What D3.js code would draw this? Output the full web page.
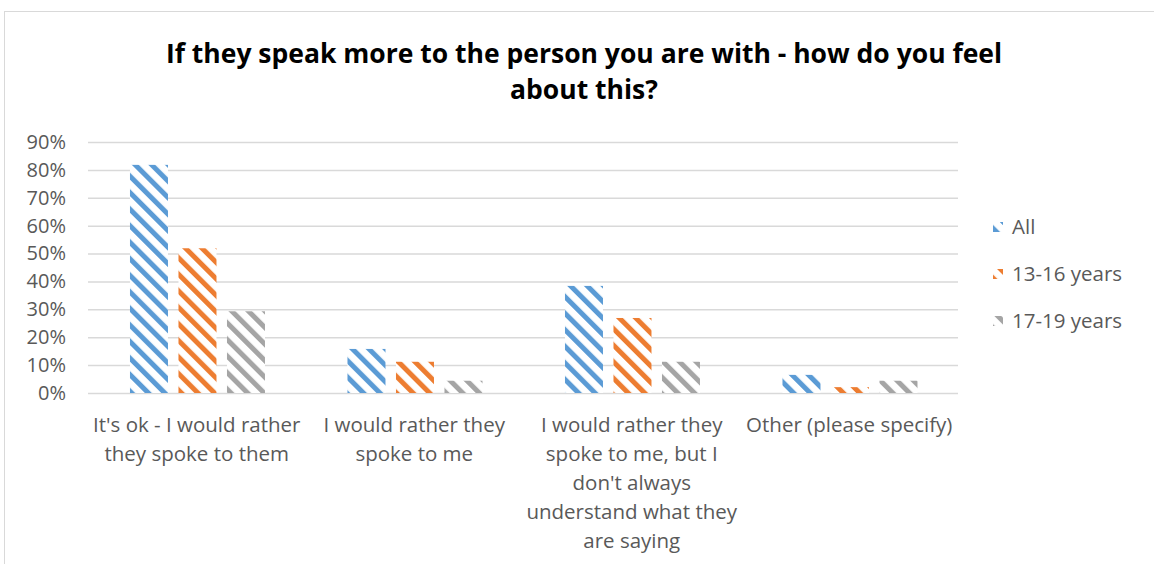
<!DOCTYPE html>
<html><head><meta charset="utf-8">
<script src="https://cdn.jsdelivr.net/npm/d3@7"></script>
<style>body{margin:0;background:#fff;} text{font-family:"Open Sans",sans-serif;}</style>
</head><body><svg id="c" width="1154" height="564"></svg>
<script>
const categories = [
  "It's ok - I would rather\nthey spoke to them",
  "I would rather they\nspoke to me",
  "I would rather they\nspoke to me, but I\ndon't always\nunderstand what they\nare saying",
  "Other (please specify)"
];
const seriesNames = ["All", "13-16 years", "17-19 years"];
const allValues = [0.818, 0.158, 0.384, 0.065];
const age13to16Values = [0.519, 0.112, 0.269, 0.021];
const age17to19Values = [0.293, 0.044, 0.112, 0.044];
const yTicks = [0, 0.1, 0.2, 0.3, 0.4, 0.5, 0.6, 0.7, 0.8, 0.9];
const colors = ["#5b9bd5", "#ed7d31", "#a5a5a5"];
const titleLines = ["If they speak more to the person you are with - how do you feel", "about this?"];

const series = [allValues, age13to16Values, age17to19Values];
const svg = d3.select("#c");

// chart border
svg.append("rect").attr("x", 4.5).attr("y", 11.5).attr("width", 1200).attr("height", 600)
  .attr("fill", "#fff").attr("stroke", "#d9d9d9").attr("stroke-width", 1);

// patterns
const defs = svg.append("defs");
colors.forEach((c, i) => {
  const p = defs.append("pattern").attr("id", "pat" + i)
    .attr("patternUnits", "userSpaceOnUse").attr("width", 11.7).attr("height", 11.7)
    .attr("patternTransform", "rotate(-45)");
  p.append("rect").attr("width", 11.7).attr("height", 11.7).attr("fill", "#fff");
  p.append("rect").attr("width", 5.0).attr("height", 11.7).attr("fill", c);
});

const x = d3.scaleBand().domain(d3.range(categories.length)).range([88, 958]).padding(0);
const inner = d3.scaleBand().domain(d3.range(series.length))
  .range([0.193 * x.bandwidth(), 0.193 * x.bandwidth() + 135]).paddingInner(0.2165).paddingOuter(0);
const y = d3.scaleLinear().domain([0, 0.9]).range([393, 142]);

// gridlines
const yAxis = d3.axisLeft(y).tickValues(yTicks).tickFormat(d3.format(".0%")).tickSize(-(958 - 88)).tickPadding(22);
const gy = svg.append("g").attr("transform", "translate(88,0)").call(yAxis);
gy.select(".domain").remove();
gy.selectAll(".tick line").attr("stroke", "#d9d9d9").attr("stroke-width", 1.5);
gy.selectAll(".tick text").attr("fill", "#595959").style("font-size", "20px")
  .style("font-family", '"Open Sans",sans-serif');

// bars
series.forEach((vals, si) => {
  svg.append("g").selectAll("rect").data(vals).join("rect")
    .attr("x", (d, i) => x(i) + inner(si))
    .attr("width", inner.bandwidth())
    .attr("y", d => y(d))
    .attr("height", d => y(0) - y(d))
    .attr("fill", "url(#pat" + si + ")");
});

// category labels
const lineH = 29;
categories.forEach((c, i) => {
  const t = svg.append("text").attr("text-anchor", "middle").attr("fill", "#595959")
    .style("font-size", "20.5px");
  c.split("\n").forEach((ln, j) => {
    t.append("tspan").attr("x", x(i) + x.bandwidth() / 2).attr("y", 432 + j * lineH).text(ln);
  });
});

// title
titleLines.forEach((ln, j) => {
  svg.append("text").attr("x", 584).attr("y", 63 + j * 36).attr("text-anchor", "middle")
    .attr("fill", "#000").style("font-size", "26.5px").style("font-weight", "bold").text(ln);
});

// legend
const legendY = [227, 274, 321];
seriesNames.forEach((n, i) => {
  svg.append("rect").attr("x", 993).attr("y", legendY[i] - 5).attr("width", 10).attr("height", 10)
    .attr("fill", "url(#pat" + i + ")");
  svg.append("text").attr("x", 1012).attr("y", legendY[i] + 7).attr("fill", "#595959")
    .style("font-size", "20.5px").text(n);
});
</script></body></html>
